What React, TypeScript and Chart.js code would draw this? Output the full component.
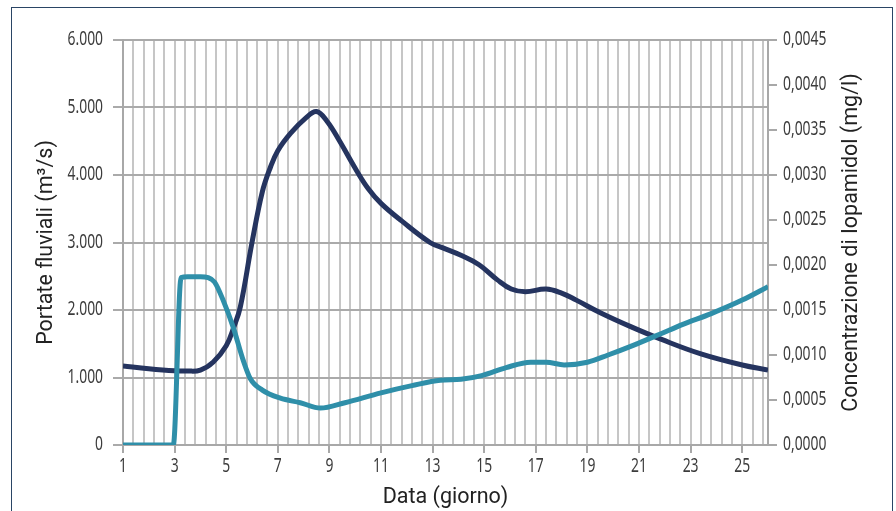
import React, { useEffect, useRef } from 'react';
import { Chart, registerables } from 'chart.js';

Chart.register(...registerables);

// Discharge (m³/s) — left axis
const dischargeDays = [1, 2, 3, 3.5, 4, 4.5, 5, 5.3, 5.55, 6.0, 6.4, 6.7, 7.0, 7.5, 8.1, 8.5, 8.9, 9.4, 10.0, 10.5, 11.0, 11.8, 12.9, 13.4, 14.1, 14.8, 15.5, 16.05, 16.6, 17.4, 18.0, 18.55, 19.5, 20.7, 21.9, 23.4, 25.0, 26.0];
const dischargeValues = [1170, 1130, 1100, 1095, 1110, 1230, 1470, 1750, 2050, 3000, 3750, 4100, 4360, 4620, 4850, 4940, 4800, 4500, 4100, 3800, 3580, 3320, 3000, 2920, 2810, 2670, 2450, 2310, 2270, 2310, 2250, 2150, 1960, 1750, 1560, 1350, 1185, 1110];

// Iopamidol concentration (mg/l) — right axis
const concDays = [1, 2, 2.95, 3.25, 3.5, 4.0, 4.3, 4.55, 4.88, 5.27, 5.66, 5.93, 6.4, 7.1, 7.87, 8.65, 9.6, 11.0, 12.2, 13.3, 14.1, 14.9, 15.85, 16.8, 17.4, 18.1, 19.0, 19.8, 20.8, 21.8, 22.7, 23.8, 25.0, 26.0];
const concValues = [0, 0, 0, 0.00186, 0.00187, 0.00187, 0.00186, 0.00181, 0.00161, 0.00131, 0.00094, 0.00074, 0.00061, 0.00052, 0.00047, 0.00041, 0.00047, 0.00058, 0.00066, 0.00072, 0.00073, 0.00077, 0.00086, 0.00092, 0.00092, 0.00089, 0.00092, 0.001, 0.00111, 0.00123, 0.00134, 0.00146, 0.00161, 0.00176];

const xTickLabels = ['1', '3', '5', '7', '9', '11', '13', '15', '17', '19', '21', '23', '25'];
const xMin = 1;
const xMax = 26;
const xGridStep = 0.4;

const leftTitle = 'Portate fluviali (m³/s)';
const rightTitle = 'Concentrazione di Iopamidol (mg/l)';
const bottomTitle = 'Data (giorno)';

const NAVY = '#25345f';
const TEAL = '#2f8fa9';
const TICK_FAMILY = "'Noto Sans', 'Open Sans', sans-serif";
const TICK_SIZE = 19;
const TICK_SQUEEZE = 0.73;
const TICK_COLOR = '#3c3c3c';
const TITLE_FONT = { family: "Roboto, 'Open Sans', sans-serif", size: 21.5 };

const isLabeled = (v: number) => {
  const r = Math.round(v * 1000) / 1000;
  return xTickLabels.includes(String(r));
};
const leftLabel = (v: number) => (v === 0 ? '0' : `${v / 1000}.000`);
const rightLabel = (v: number) => v.toFixed(4).replace('.', ',');

const drawSqueezed = (ctx: any, text: string, x: number, y: number, align: string) => {
  ctx.save();
  ctx.translate(x, y);
  ctx.scale(TICK_SQUEEZE, 1);
  ctx.textAlign = align;
  ctx.textBaseline = 'middle';
  ctx.fillText(text, 0, 0);
  ctx.restore();
};

const labelsPlugin = {
  id: 'customLabels',
  afterDraw(chart: any) {
    const { ctx, chartArea } = chart;
    const { x, yL, yR } = chart.scales;
    ctx.save();
    ctx.font = `${TICK_SIZE}px ${TICK_FAMILY}`;
    ctx.fillStyle = TICK_COLOR;
    yL.ticks.forEach((t: any) => {
      drawSqueezed(ctx, leftLabel(t.value), yL.right - 20, yL.getPixelForValue(t.value), 'right');
    });
    yR.ticks.forEach((t: any) => {
      drawSqueezed(ctx, rightLabel(t.value), yR.left + 15, yR.getPixelForValue(t.value), 'left');
    });
    x.ticks.forEach((t: any) => {
      if (isLabeled(t.value)) {
        drawSqueezed(ctx, String(Math.round(t.value)), x.getPixelForValue(t.value), x.top + 22, 'center');
      }
    });
    // right axis title (reads bottom to top)
    const y = (chartArea.top + chartArea.bottom) / 2;
    ctx.translate(yR.right - 44, y);
    ctx.rotate(-Math.PI / 2);
    ctx.font = `${TITLE_FONT.size}px ${TITLE_FONT.family}`;
    ctx.fillStyle = '#222';
    ctx.textAlign = 'center';
    ctx.textBaseline = 'middle';
    ctx.fillText(rightTitle, 0, 0);
    ctx.restore();
  },
};

export default function App() {
  const ref = useRef<HTMLCanvasElement>(null);

  useEffect(() => {
    if (!ref.current) return;
    const chart = new Chart(ref.current, {
      type: 'line',
      data: {
        datasets: [
          {
            label: 'Iopamidol',
            data: concDays.map((d, i) => ({ x: d, y: concValues[i] })),
            yAxisID: 'yR',
            borderColor: TEAL,
            borderWidth: 5,
            pointRadius: 0,
            cubicInterpolationMode: 'monotone',
            fill: false,
          },
          {
            label: 'Portate',
            data: dischargeDays.map((d, i) => ({ x: d, y: dischargeValues[i] })),
            yAxisID: 'yL',
            borderColor: NAVY,
            borderWidth: 5,
            pointRadius: 0,
            tension: 0.4,
            fill: false,
          },
        ],
      },
      options: {
        animation: false,
        responsive: false,
        maintainAspectRatio: false,
        layout: { padding: { top: 40, left: 0, right: 0, bottom: 0 } },
        plugins: { legend: { display: false }, tooltip: { enabled: false } },
        scales: {
          x: {
            type: 'linear',
            min: xMin,
            max: xMax,
            afterBuildTicks: (scale: any) => {
              const ticks = [];
              for (let v = xMin; v <= xMax - 0.1; v += xGridStep) {
                ticks.push({ value: Math.round(v * 1000) / 1000 });
              }
              scale.ticks = ticks;
            },
            afterFit: (scale: any) => {
              scale.height = 66;
            },
            ticks: { display: false, autoSkip: false, maxRotation: 0 },
            grid: {
              color: '#c6c6c6',
              lineWidth: 2,
              tickLength: 8,
              tickColor: (ctx: any) => (ctx.tick && isLabeled(ctx.tick.value) ? '#a8a8a8' : 'rgba(0,0,0,0)'),
            },
            border: { display: true, color: '#a8a8a8', width: 2 },
            title: {
              display: true,
              text: bottomTitle,
              color: '#222',
              font: TITLE_FONT,
              padding: { top: 0, bottom: 0 },
            },
          },
          yL: {
            type: 'linear',
            position: 'left',
            min: 0,
            max: 6000,
            afterFit: (scale: any) => {
              scale.width = 123;
            },
            ticks: { display: false, stepSize: 1000 },
            grid: { color: '#aaaaaa', lineWidth: 2, tickLength: 10, tickColor: '#aaaaaa' },
            border: { display: true, color: '#a8a8a8', width: 2 },
            title: {
              display: true,
              text: leftTitle,
              color: '#222',
              font: TITLE_FONT,
              padding: { top: 34, bottom: 0 },
            },
          },
          yR: {
            type: 'linear',
            position: 'right',
            min: 0,
            max: 0.0045,
            afterFit: (scale: any) => {
              scale.width = 128;
            },
            ticks: { display: false, stepSize: 0.0005 },
            grid: { drawOnChartArea: false, tickLength: 9, tickColor: '#a8a8a8', lineWidth: 2 },
            border: { display: true, color: '#a8a8a8', width: 2 },
          },
        },
      },
      plugins: [labelsPlugin],
    } as any);
    return () => chart.destroy();
  }, []);

  return (
    <div style={{ position: 'fixed', left: 0, top: 0, width: 896, height: 511, background: '#fff', overflow: 'hidden' }}>
      <div
        style={{
          position: 'absolute',
          left: 11,
          top: 7,
          width: 882,
          height: 520,
          boxSizing: 'border-box',
          borderLeft: '1.5px solid #2a4565',
          borderTop: '1.5px solid #2a4565',
          borderRight: '1.5px solid #2a4565',
        }}
      />
      <canvas ref={ref} width={896} height={511} style={{ position: 'absolute', left: 0, top: 0, width: 896, height: 511 }} />
    </div>
  );
}
